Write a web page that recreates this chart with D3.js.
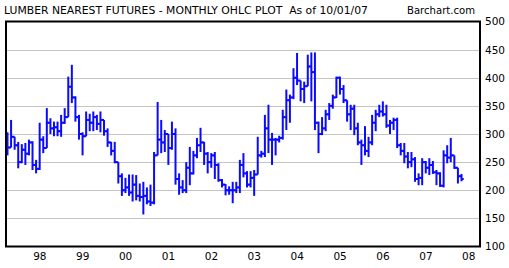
<!DOCTYPE html>
<html><head><meta charset="utf-8">
<script src="https://cdn.jsdelivr.net/npm/d3@7"></script>
<style>html,body{margin:0;padding:0;background:#fff;}svg{display:block;}</style>
</head><body>
<div id="chart"></div>
<script>
// Monthly bars, Mar 1997 .. Oct 2007 (index 0 = Mar 1997)
const open = [300,276,295,280,250,272,265,285,245,238,
290,275,320,310,312,305,320,330,384,365,
330,300,296,325,320,330,318,325,305,285,
270,250,225,200,205,196,210,190,188,190,
180,178,262,290,285,300,275,300,220,205,
200,240,230,262,280,285,265,250,262,245,
218,210,200,200,200,205,245,230,210,222,
228,262,265,310,290,290,290,293,330,360,
365,400,395,380,385,420,410,320,300,310,
335,350,365,400,380,360,335,345,310,285,
280,270,285,320,335,340,335,315,320,325,
280,270,260,250,255,220,222,250,240,245,
232,230,208,262,258,262,240,225];
const high = [303,325,295,286,282,284,290,287,254,320,
296,346,328,322,322,334,346,402,423,367,
334,303,340,336,340,334,340,325,310,286,
286,250,230,222,228,228,227,212,215,205,
210,268,357,325,307,300,322,310,230,218,
250,277,270,293,311,286,268,266,268,248,
220,211,207,215,215,254,266,234,234,236,
295,270,334,352,302,293,297,343,379,370,
417,444,395,393,441,445,445,322,330,343,
355,370,402,402,387,360,352,352,320,290,
314,295,334,343,352,358,352,325,329,329,
284,284,268,268,259,230,257,252,257,252,
236,232,271,280,293,262,240,229];
const low = [262,276,272,239,248,245,262,236,230,236,
266,275,300,296,296,295,318,330,355,322,
290,262,296,305,305,307,303,297,277,262,
248,212,190,195,190,180,182,180,157,175,
172,175,262,266,268,245,272,210,192,195,
195,209,228,257,268,245,230,240,220,215,
205,191,192,177,195,195,223,205,205,190,
228,258,259,266,245,262,285,290,307,320,
362,387,358,355,385,358,307,266,298,305,
325,345,364,370,355,322,307,298,280,245,
262,259,280,305,330,331,311,300,307,275,
262,248,239,241,215,209,209,230,227,229,
209,206,205,248,250,238,212,216];
const close = [276,295,280,250,272,265,285,245,238,290,
275,320,310,312,305,320,330,384,365,330,
300,296,325,320,330,318,325,305,285,270,
250,225,200,205,196,210,190,188,190,180,
178,262,290,285,300,275,300,220,205,200,
240,230,262,280,285,265,250,262,245,218,
210,200,200,200,205,245,230,210,222,228,
262,265,310,290,290,290,293,330,360,365,
400,395,380,385,420,410,320,300,310,335,
350,365,400,380,360,335,345,310,285,280,
270,285,320,335,340,335,315,320,325,280,
270,260,250,255,220,222,250,240,245,232,
230,208,262,258,262,240,225,220];
const yearLabels = ["98","99","00","01","02","03","04","05","06","07","08"];
const yearLabelMonthIndex = [8.9,20.9,32.9,44.9,56.9,68.9,80.9,92.9,104.9,116.9,128.9];
const yTicks = [100,150,200,250,300,350,400,450,500];
const gridValues = [150,200,250,300,350,400,450];
const titleText = "LUMBER NEAREST FUTURES - MONTHLY OHLC PLOT\u00a0\u00a0As of 10/01/07";
const sourceText = "Barchart.com";

const W = 509, H = 268;
const svg = d3.select("#chart").append("svg").attr("width", W).attr("height", H);
svg.append("rect").attr("width", W).attr("height", H).attr("fill", "#fff");

const frame = {left: 6, right: 480, top: 21.5, bottom: 246.5};
const x = d3.scaleLinear().domain([0, close.length - 1]).range([7.5, 461.5]);
const y = d3.scaleLinear().domain([100, 500]).range([frame.bottom, frame.top]);

const font = "'DejaVu Sans', Verdana, sans-serif";

// title
svg.append("text").attr("x", 4).attr("y", 14).attr("font-family", font).attr("font-size", 11)
  .attr("textLength", 364).attr("lengthAdjust", "spacingAndGlyphs").attr("fill", "#000")
  .text(titleText);
svg.append("text").attr("x", 407).attr("y", 14).attr("font-family", font).attr("font-size", 11)
  .attr("textLength", 68).attr("lengthAdjust", "spacingAndGlyphs").attr("fill", "#000")
  .text(sourceText);

// grid
svg.append("g").selectAll("line").data(gridValues).join("line")
  .attr("x1", frame.left).attr("x2", frame.right)
  .attr("y1", d => Math.round(y(d)) + 0.5).attr("y2", d => Math.round(y(d)) + 0.5)
  .attr("stroke", "#c4c4c4").attr("stroke-width", 1);

// bars
const idx = d3.range(close.length);
const g = svg.append("g").attr("stroke", "#0a0aff").attr("stroke-width", 2).attr("fill", "none");
g.selectAll("line.hl").data(idx).join("line").attr("class", "hl")
  .attr("x1", i => x(i)).attr("x2", i => x(i))
  .attr("y1", i => y(high[i])).attr("y2", i => y(low[i]));
g.selectAll("line.o").data(idx).join("line").attr("class", "o")
  .attr("x1", i => x(i) - 2.2).attr("x2", i => x(i))
  .attr("y1", i => y(open[i])).attr("y2", i => y(open[i]));
g.selectAll("line.c").data(idx).join("line").attr("class", "c")
  .attr("x1", i => x(i)).attr("x2", i => x(i) + 2.2)
  .attr("y1", i => y(close[i])).attr("y2", i => y(close[i]));

// frame
svg.append("rect").attr("x", frame.left).attr("y", frame.top)
  .attr("width", frame.right - frame.left).attr("height", frame.bottom - frame.top)
  .attr("fill", "none").attr("stroke", "#000").attr("stroke-width", 2);

// y axis labels (right)
const yAxis = d3.axisRight(y).tickValues(yTicks).tickSize(0).tickPadding(5);
const ya = svg.append("g").attr("transform", `translate(${frame.right},0)`).call(yAxis);
ya.select(".domain").remove();
ya.selectAll("text").attr("font-family", font).attr("font-size", 10.5).attr("fill", "#000");

// x axis labels
const xAxis = d3.axisBottom(x).tickValues(yearLabelMonthIndex)
  .tickFormat((d, i) => yearLabels[i]).tickSize(0).tickPadding(6);
const xa = svg.append("g").attr("transform", `translate(0,${frame.bottom})`).call(xAxis);
xa.select(".domain").remove();
xa.selectAll("text").attr("font-family", font).attr("font-size", 10.5).attr("fill", "#000");
</script>
</body></html>
